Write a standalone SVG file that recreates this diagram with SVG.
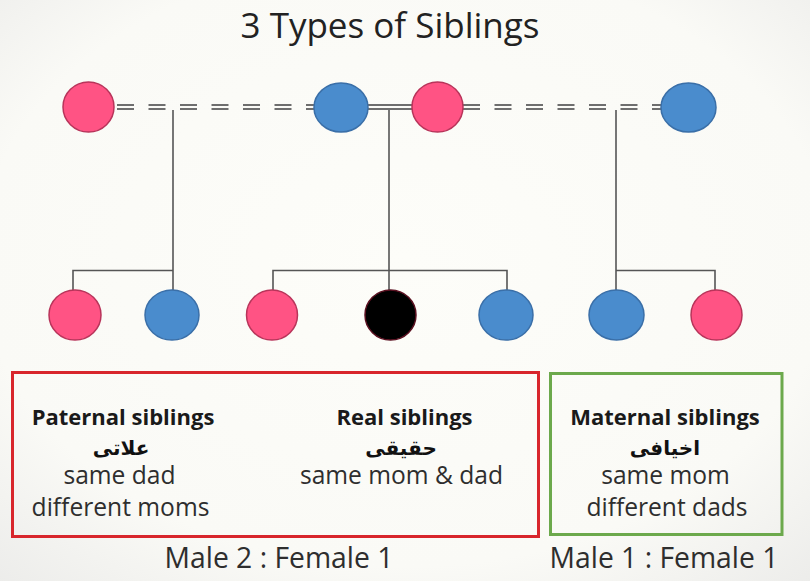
<svg xmlns="http://www.w3.org/2000/svg" width="810" height="581" viewBox="0 0 810 581">
<defs>
<radialGradient id="bg" cx="50%" cy="45%" r="75%">
<stop offset="0" stop-color="#FDFDF9"/>
<stop offset="0.7" stop-color="#FAFAF6"/>
<stop offset="1" stop-color="#ECECEA"/>
</radialGradient>
</defs>
<style>
.f{fill:#FF5384;stroke:#B8345A;stroke-width:1.5}
.m{fill:#4A8CCD;stroke:#3A6FA8;stroke-width:1.5}
.k{fill:#000;stroke:#5A1020;stroke-width:1.5}
.dbl{stroke:#6E6E6E;stroke-width:2;fill:none}
.dash{stroke-dasharray:17 14.5}
.ln{stroke:#555;stroke-width:1.6;fill:none}
.t{font-family:"Open Sans","Noto Sans","DejaVu Sans",sans-serif;fill:#222;text-anchor:middle}
.h{font-weight:bold;font-size:22px;fill:#1a1a1a}
.b{font-size:24.6px;fill:#2e2e2e}
.ar{font-family:"DejaVu Sans","Noto Sans",sans-serif;font-weight:bold;font-size:20px;fill:#111;text-anchor:middle}
.lab{font-size:28.3px;fill:#2e2e2e}
</style>
<rect width="810" height="581" fill="url(#bg)"/>
<text class="t" x="390" y="38" font-size="35" fill="#1a1a1a">3 Types of Siblings</text>

<g id="connectors">
<line class="dbl dash" x1="117" y1="105" x2="314" y2="105"/>
<line class="dbl dash" x1="117" y1="109" x2="314" y2="109"/>
<line class="dbl" x1="368" y1="105" x2="412" y2="105"/>
<line class="dbl" x1="368" y1="109" x2="412" y2="109"/>
<line class="dbl dash" x1="463" y1="105" x2="661" y2="105"/>
<line class="dbl dash" x1="463" y1="109" x2="661" y2="109"/>
<polyline class="ln" points="173,110 173,290"/>
<polyline class="ln" points="73,290 73,270.5 173,270.5"/>
<polyline class="ln" points="389,110 389,290"/>
<polyline class="ln" points="273,290 273,270.5 507,270.5 507,290"/>
<polyline class="ln" points="616,110 616,290"/>
<polyline class="ln" points="616,270.5 715,270.5 715,290"/>
</g>

<g id="parent-mother-1"><ellipse class="f" cx="88.5" cy="107" rx="25.5" ry="25"/></g>
<g id="parent-father-1"><ellipse class="m" cx="341" cy="107.5" rx="27" ry="24.5"/></g>
<g id="parent-mother-2"><ellipse class="f" cx="437.5" cy="107" rx="25.5" ry="25"/></g>
<g id="parent-father-2"><ellipse class="m" cx="688.5" cy="107.5" rx="27.5" ry="24.5"/></g>

<g id="child-1"><ellipse class="f" cx="75" cy="315" rx="26" ry="25"/></g>
<g id="child-2"><ellipse class="m" cx="172" cy="315" rx="27" ry="25"/></g>
<g id="child-3"><ellipse class="f" cx="272" cy="315" rx="25.5" ry="25"/></g>
<g id="child-4"><ellipse class="k" cx="390.5" cy="315" rx="25.5" ry="25"/></g>
<g id="child-5"><ellipse class="m" cx="506" cy="315" rx="27" ry="25"/></g>
<g id="child-6"><ellipse class="m" cx="616.5" cy="315" rx="27.5" ry="25"/></g>
<g id="child-7"><ellipse class="f" cx="716.5" cy="315" rx="25.5" ry="25"/></g>

<g id="box-father-side">
<rect x="12.5" y="372.5" width="526" height="164" fill="none" stroke="#D8262C" stroke-width="3"/>
<text class="t h" x="123" y="425">Paternal siblings</text>
<text class="ar" x="121" y="455">علاتی</text>
<text class="t b" x="119.5" y="484">same dad</text>
<text class="t b" x="120.5" y="516">different moms</text>
<text class="t h" x="404.5" y="425">Real siblings</text>
<text class="ar" x="401" y="455">حقیقی</text>
<text class="t b" x="401.5" y="484">same mom &amp; dad</text>
</g>
<g id="box-mother-side">
<rect x="550.5" y="373.5" width="231.5" height="161" fill="none" stroke="#6CA94C" stroke-width="3"/>
<text class="t h" x="665" y="425">Maternal siblings</text>
<text class="ar" x="665" y="455">اخیافی</text>
<text class="t b" x="665.5" y="484">same mom</text>
<text class="t b" x="667" y="516">different dads</text>
</g>
<text class="t lab" x="279" y="568">Male 2 : Female 1</text>
<text class="t lab" x="664" y="568">Male 1 : Female 1</text>
</svg>
